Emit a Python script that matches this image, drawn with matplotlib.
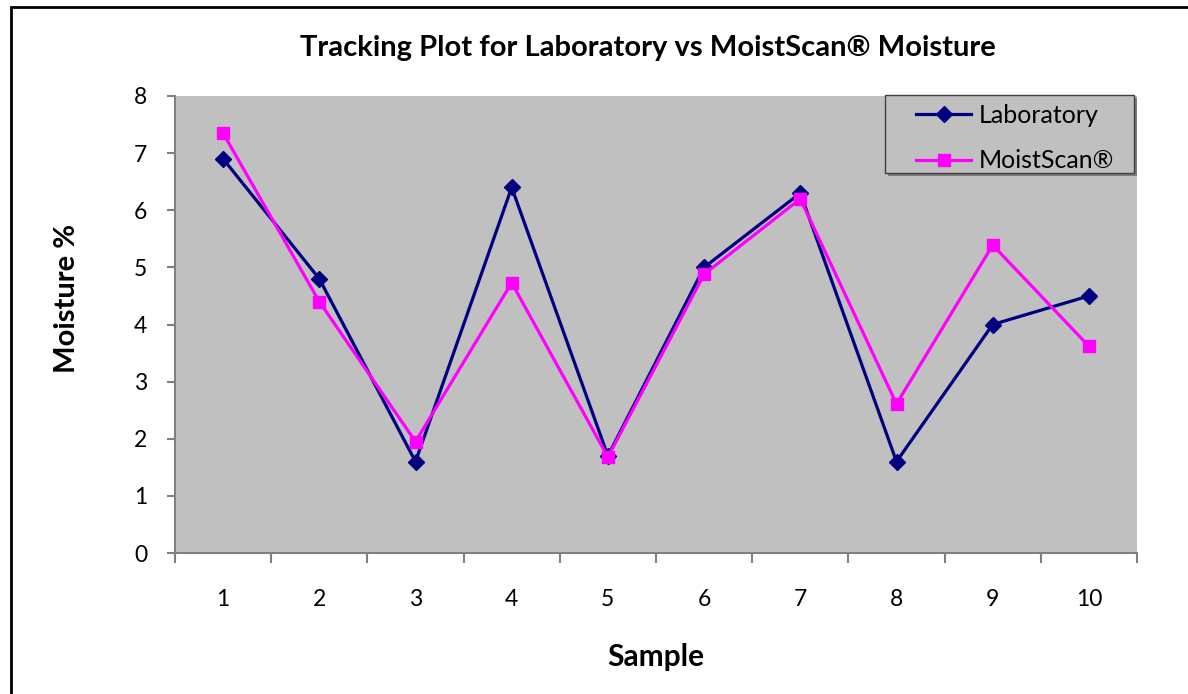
import numpy as np
import matplotlib

matplotlib.use("Agg", force=True)
import matplotlib.pyplot as plt
from matplotlib.patches import Rectangle

plt.rcParams["font.family"] = ["Lato", "DejaVu Sans"]

samples = [1, 2, 3, 4, 5, 6, 7, 8, 9, 10]
laboratory = [6.9, 4.8, 1.6, 6.4, 1.7, 5.0, 6.3, 1.6, 4.0, 4.5]
moistscan = [7.35, 4.4, 1.95, 4.73, 1.68, 4.88, 6.2, 2.61, 5.39, 3.62]
y_ticks = [0, 1, 2, 3, 4, 5, 6, 7, 8]

W, H = 1188, 694
fig = plt.figure(figsize=(W / 100, H / 100), dpi=100)
ax = fig.add_axes([175 / W, 1 - 553 / H, 962 / W, 457 / H])
ax.set_facecolor("#C0C0C0")

ax.plot(samples, laboratory, color="#000080", lw=2.3, marker="D", ms=8,
        label="Laboratory")
ax.plot(samples, moistscan, color="#FF00FF", lw=2.3, marker="s", ms=8,
        label="MoistScan®")

ax.set_xlim(0.5, 10.5)
ax.set_ylim(0, 8)
ax.set_yticks(y_ticks)
ax.set_xticks(np.arange(0.5, 11, 1))
ax.set_xticklabels([])
ax.set_xticks(samples, minor=True)
ax.set_xticklabels([str(s) for s in samples], minor=True)
ax.tick_params(axis="x", which="major", length=7, width=1.5, color="#808080", direction="out")
ax.tick_params(axis="x", which="minor", length=0, pad=26, labelsize=16.5)
ax.tick_params(axis="y", length=6, width=1.5, color="#808080", labelsize=16.5, pad=14)

for side in ["top", "right"]:
    ax.spines[side].set_visible(False)
for side in ["left", "bottom"]:
    ax.spines[side].set_color("#808080")
    ax.spines[side].set_linewidth(1.5)

ax.set_xlabel("Sample", fontsize=21.5, fontweight="bold", labelpad=24)
fig.text(67 / W, 1 - 298 / H, "Moisture %", rotation=90, ha="center", va="center",
         fontsize=21, fontweight="bold")
fig.text(0.545, 1 - 48 / H, "Tracking Plot for Laboratory vs MoistScan® Moisture",
         ha="center", va="center", fontsize=21, fontweight="bold")

# legend box with shadow, drawn by hand (Excel style)
fig.patches.append(Rectangle((888 / W, 1 - 176 / H), 249 / W, 78 / H,
                             transform=fig.transFigure, facecolor="#7a7a7a",
                             edgecolor="none", zorder=3))
fig.patches.append(Rectangle((885 / W, 1 - 173 / H), 249 / W, 78 / H,
                             transform=fig.transFigure, facecolor="#C0C0C0",
                             edgecolor="#404040", lw=1.0, zorder=3))
handles, labels = ax.get_legend_handles_labels()
leg = fig.legend(handles, labels, loc="upper left", bbox_to_anchor=(916 / W, 1 - 104 / H),
                 bbox_transform=fig.transFigure, fontsize=18, frameon=False,
                 handlelength=2.2, handletextpad=0.3, borderpad=0,
                 labelspacing=0.9, borderaxespad=0)
leg.set_zorder(5)

fig.patches.append(Rectangle((11 / W, -0.1), 1.2, 1 - 7 / H + 0.1,
                             transform=fig.transFigure, fill=False,
                             edgecolor="black", lw=2))

fig.savefig("out.png", dpi=100)
